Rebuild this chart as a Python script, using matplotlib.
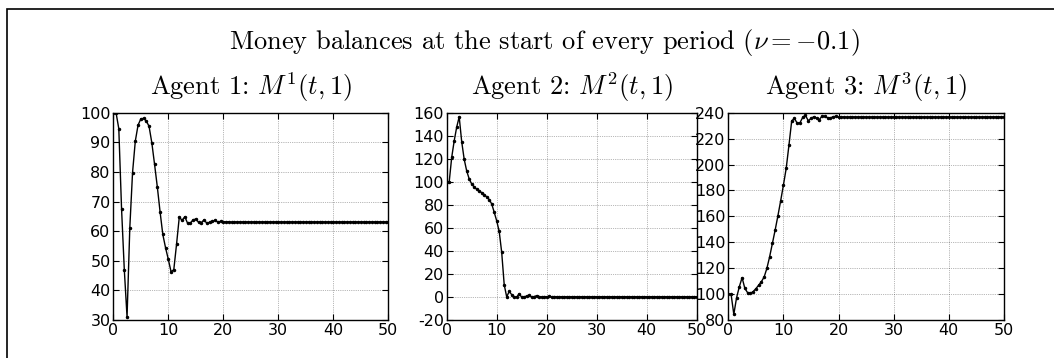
import matplotlib
matplotlib.use('Agg')
import matplotlib.pyplot as plt
from matplotlib.patches import Rectangle

plt.rcParams['mathtext.fontset'] = 'cm'
plt.rcParams['font.family'] = 'DejaVu Sans'
plt.rcParams['axes.unicode_minus'] = False

# time grid: half-period steps from 0 to 50
t = [i * 0.5 for i in range(101)]

# money balances of agent 1, 2, 3 (each row = 5 periods)
m1 = [100.0, 100.0, 94.6, 67.6, 47.0, 31.0, 61.1, 79.8, 90.4, 95.8,
      97.9, 98.1, 97.2, 95.4, 89.9, 82.6, 75.0, 66.6, 58.9, 54.4,
      50.5, 46.3, 47.0, 55.6, 64.8, 63.6, 64.9, 62.7, 62.7, 63.8,
      64.1, 63.0, 62.9, 63.8, 62.7, 63.0, 63.3, 63.6, 63.1, 63.3,
      63.2, 63.1, 63.2, 63.0, 63.1, 63.1, 63.1, 63.1, 63.1, 63.1,
      63.1, 63.1, 63.1, 63.1, 63.1, 63.1, 63.1, 63.1, 63.1, 63.1,
      63.1, 63.1, 63.1, 63.1, 63.1, 63.1, 63.1, 63.1, 63.1, 63.1,
      63.1, 63.1, 63.1, 63.1, 63.1, 63.1, 63.1, 63.1, 63.1, 63.1,
      63.1, 63.1, 63.1, 63.1, 63.1, 63.1, 63.1, 63.1, 63.1, 63.1,
      63.1, 63.1, 63.1, 63.1, 63.1, 63.1, 63.1, 63.1, 63.1, 63.1,
      63.1]
m2 = [100.0, 100.0, 121.2, 135.6, 147.5, 156.4, 134.8, 119.5, 109.4, 102.5,
      98.1, 95.5, 93.5, 92.1, 90.6, 88.9, 86.9, 84.6, 80.8, 73.6,
      66.1, 56.9, 38.7, 10.7, 0.0, 4.9, 2.0, -0.3, 0.0, 2.9,
      -0.3, 0.0, 0.9, 1.4, 0.0, 0.3, 1.2, 0.3, 0.0, 0.3,
      0.2, 0.5, 0.1, 0.3, 0.2, 0.2, 0.2, 0.2, 0.2, 0.2,
      0.2, 0.2, 0.2, 0.2, 0.2, 0.2, 0.2, 0.2, 0.2, 0.2,
      0.2, 0.2, 0.2, 0.2, 0.2, 0.2, 0.2, 0.2, 0.2, 0.2,
      0.2, 0.2, 0.2, 0.2, 0.2, 0.2, 0.2, 0.2, 0.2, 0.2,
      0.2, 0.2, 0.2, 0.2, 0.2, 0.2, 0.2, 0.2, 0.2, 0.2,
      0.2, 0.2, 0.2, 0.2, 0.2, 0.2, 0.2, 0.2, 0.2, 0.2,
      0.2]
m3 = [100.0, 100.0, 84.4, 97.2, 105.7, 112.7, 104.4, 101.1, 100.6, 101.9,
      104.2, 106.8, 109.6, 113.2, 119.9, 128.9, 139.2, 149.5, 160.5, 172.1,
      184.2, 197.0, 215.0, 233.8, 235.6, 231.8, 232.3, 236.4, 237.9, 233.8,
      235.6, 236.9, 235.9, 234.6, 237.4, 237.2, 236.1, 235.9, 236.9, 237.2,
      236.4, 236.6, 236.8, 236.5, 236.7, 236.7, 236.7, 236.7, 236.7, 236.7,
      236.7, 236.7, 236.7, 236.7, 236.7, 236.7, 236.7, 236.7, 236.7, 236.7,
      236.7, 236.7, 236.7, 236.7, 236.7, 236.7, 236.7, 236.7, 236.7, 236.7,
      236.7, 236.7, 236.7, 236.7, 236.7, 236.7, 236.7, 236.7, 236.7, 236.7,
      236.7, 236.7, 236.7, 236.7, 236.7, 236.7, 236.7, 236.7, 236.7, 236.7,
      236.7, 236.7, 236.7, 236.7, 236.7, 236.7, 236.7, 236.7, 236.7, 236.7,
      236.7]

titles = [r'Agent 1: $M^1(t,1)$',
          r'Agent 2: $M^2(t,1)$',
          r'Agent 3: $M^3(t,1)$']
ylims = [(30, 100), (-20, 160), (80, 240)]
ysteps = [10, 20, 20]
series = [m1, m2, m3]

W, H = 1054, 358
fig = plt.figure(figsize=(W / 100, H / 100), dpi=100)

# boxes in pixels: left, right
boxes = [(113.3, 388.3), (446.7, 696.7), (728.3, 1004.0)]
top_px, bot_px = 112.7, 320.0

for (x0, x1), m, title, (lo, hi), st in zip(boxes, series, titles, ylims, ysteps):
    ax = fig.add_axes([x0 / W, 1 - bot_px / H, (x1 - x0) / W, (bot_px - top_px) / H])
    ax.plot(t, m, color='black', lw=1.0, marker='.', markersize=3)
    ax.set_xlim(0, 50)
    ax.set_ylim(lo, hi)
    ax.set_xticks(range(0, 51, 10))
    ax.set_yticks(range(lo, hi + 1, st))
    ax.grid(True, color='black', linestyle=':', linewidth=0.5, alpha=0.55)
    ax.tick_params(direction='in', top=True, right=True, length=4, width=0.8,
                   labelsize=11.5, pad=2)
    for s in ax.spines.values():
        s.set_linewidth(1.0)
    ax.set_title(title, fontsize=19, family='cmr10', pad=13)

fig.text(0.516, 1 - 42 / H, r'Money balances at the start of every period ($\nu = -0.1$)',
         ha='center', va='center', fontsize=19, family='cmr10')

# frame around the figure
fig.add_artist(Rectangle((7 / W, -0.1), 1.2, 1.1 - 9 / H, transform=fig.transFigure,
                         fill=False, edgecolor='black', linewidth=1.2, clip_on=False))

fig.savefig('out.png', dpi=100)
